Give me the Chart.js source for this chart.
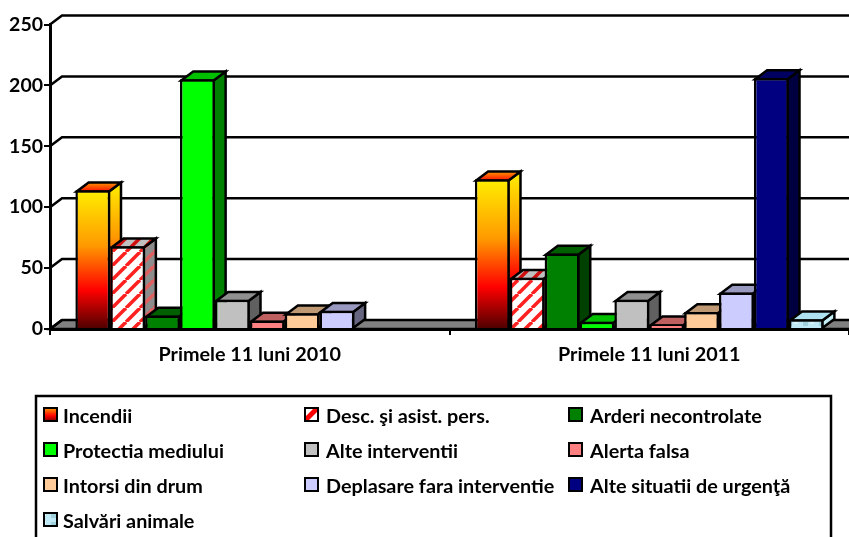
<!DOCTYPE html>
<html>
<head>
<meta charset="utf-8">
<style>
	html, body { margin: 0; padding: 0; background: #fff; }
	canvas { display: block; }
</style>
<script src="https://cdn.jsdelivr.net/npm/chart.js@4"></script>
</head>
<body>
<canvas id="myChart" width="849" height="537"></canvas>
<script>
const categories = ['Primele 11 luni 2010', 'Primele 11 luni 2011'];
const seriesNames = [
	'Incendii', 'Desc. şi asist. pers.', 'Arderi necontrolate',
	'Protectia mediului', 'Alte interventii', 'Alerta falsa',
	'Intorsi din drum', 'Deplasare fara interventie', 'Alte situatii de urgenţă',
	'Salvări animale'
];
const incendii = [114, 123];
const descarcerari = [68, 42];
const arderi = [11, 62];
const protectia = [205, 6];
const alteInterventii = [24, 24];
const alerta = [7, 4];
const intorsi = [13, 14];
const deplasare = [15, 30];
const alteSituatii = [0, 206];
const salvari = [0, 8];
const seriesValues = [incendii, descarcerari, arderi, protectia, alteInterventii, alerta, intorsi, deplasare, alteSituatii, salvari];
const yTicks = [0, 50, 100, 150, 200, 250];

// front, side and top colours of every series, index 0 and 1 and 9 are replaced by fills below
const frontColors = ['', '', '#008000', '#00ff00', '#c0c0c0', '#ff8080', '#ffcc99', '#ccccff', '#000080', ''];
const sideColors = ['', '', '#004000', '#008000', '#606060', '#804040', '#806650', '#666680', '#000040', '#c4eef6'];
const topColors = ['', '', '#006000', '#00c000', '#909090', '#bf6060', '#bf9973', '#9999bf', '#000060', '#aee2f0'];

const DEPTH_X = 12;
const DEPTH_Y = 9;
const LINE = 2.5;

function stripes (bg, fg) {
	const size = 14;
	const c = document.createElement('canvas');
	c.width = size;
	c.height = size;
	const g = c.getContext('2d');
	g.fillStyle = bg;
	g.fillRect(0, 0, size, size);
	g.strokeStyle = fg;
	g.lineWidth = 3.5;
	[-size, 0, size].forEach((o) => {
		g.beginPath();
		g.moveTo(o, size);
		g.lineTo(o + size, 0);
		g.stroke();
	});
	return document.createElement('canvas').getContext('2d').createPattern(c, 'repeat');
}

function waterTexture () {
	const c = document.createElement('canvas');
	c.width = 16;
	c.height = 8;
	const g = c.getContext('2d');
	g.fillStyle = '#bfeaf5';
	g.fillRect(0, 0, 16, 8);
	g.fillStyle = '#9fd0dc';
	g.fillRect(3, 2, 5, 4);
	g.fillStyle = '#d8f4fa';
	g.fillRect(10, 1, 4, 3);
	return document.createElement('canvas').getContext('2d').createPattern(c, 'repeat');
}

function fireGradient (ctx, top, bottom) {
	const grad = ctx.createLinearGradient(0, top, 0, bottom);
	grad.addColorStop(0, '#ffee00');
	grad.addColorStop(0.4, '#ff9900');
	grad.addColorStop(0.72, '#ff0000');
	grad.addColorStop(1, '#4d0000');
	return grad;
}

const stripeFront = stripes('#ffffff', '#ff2020');
const stripeSide = stripes('#8c8c8c', '#e06060');
const stripeTop = stripes('#c0c0c0', '#d01010');
const water = waterTexture();

function frontFill (index) {
	return (context) => {
		if (index === 0) {
			const y = context.chart.scales.y;
			const value = context.parsed ? context.parsed.y : undefined;
			if (!y || !Number.isFinite(value)) return '#ff9900';
			const top = y.getPixelForValue(value);
			const bottom = y.getPixelForValue(0);
			if (!Number.isFinite(top) || !Number.isFinite(bottom)) return '#ff9900';
			return fireGradient(context.chart.ctx, top, bottom);
		}
		if (index === 1) return stripeFront;
		if (index === 9) return water;
		return frontColors[index];
	};
}

function poly (ctx, pts, fill) {
	ctx.beginPath();
	pts.forEach((p, i) => (i ? ctx.lineTo(p[0], p[1]) : ctx.moveTo(p[0], p[1])));
	ctx.closePath();
	ctx.fillStyle = fill;
	ctx.fill();
	ctx.stroke();
}

// walls, floor and the depth faces of the bars, the bars themselves stay with Chart.js
const depthPlugin = {
	id: 'depth',
	beforeDatasetsDraw (chart) {
		const ctx = chart.ctx;
		const y = chart.scales.y;
		const area = chart.chartArea;
		ctx.save();
		ctx.strokeStyle = '#000';
		ctx.lineWidth = LINE;
		ctx.lineJoin = 'miter';

		const base = y.getPixelForValue(0);
		poly(ctx, [[area.left, base], [area.left + DEPTH_X, base - DEPTH_Y], [area.right + 20, base - DEPTH_Y], [area.right + 20, base]], '#808080');

		yTicks.forEach((t) => {
			const py = y.getPixelForValue(t);
			ctx.beginPath();
			ctx.moveTo(area.left, py);
			ctx.lineTo(area.left + DEPTH_X, py - DEPTH_Y);
			if (t > 0) ctx.lineTo(area.right + 20, py - DEPTH_Y);
			ctx.stroke();
		});

		categories.forEach((cat, c) => {
			seriesValues.forEach((vals, s) => {
				if (!vals[c]) return;
				const bar = chart.getDatasetMeta(s).data[c];
				const l = bar.x - bar.width / 2 + LINE / 2;
				const r = bar.x + bar.width / 2 - LINE / 2;
				const t = bar.y + LINE / 2;
				const b = bar.base;
				let side = sideColors[s];
				let top = topColors[s];
				if (s === 0) {
					side = fireGradient(ctx, t - DEPTH_Y, b - DEPTH_Y);
					top = ctx.createLinearGradient(0, t - DEPTH_Y, 0, t);
					top.addColorStop(0, '#ff9900');
					top.addColorStop(1, '#ff1000');
				}
				if (s === 1) {
					side = stripeSide;
					top = stripeTop;
				}
				poly(ctx, [[r, t], [r + DEPTH_X, t - DEPTH_Y], [r + DEPTH_X, b - DEPTH_Y], [r, b]], side);
				poly(ctx, [[l, t], [l + DEPTH_X, t - DEPTH_Y], [r + DEPTH_X, t - DEPTH_Y], [r, t]], top);
			});
		});
		ctx.restore();
	}
};

// fixed column legend, the box runs past the bottom of the picture
const legendColumns = [44, 305, 569];
const legendRows = [416, 451, 486, 521];
const boxPlugin = {
	id: 'legendBox',
	afterDraw (chart) {
		const ctx = chart.ctx;
		ctx.save();
		ctx.strokeStyle = '#000';
		ctx.lineWidth = LINE;
		ctx.strokeRect(36, 396, 795, 160);
		ctx.lineWidth = 2;
		ctx.font = 'bold 19.8px Lato';
		ctx.textBaseline = 'middle';
		seriesNames.forEach((name, i) => {
			const x = legendColumns[i % 3];
			const y = legendRows[Math.floor(i / 3)];
			const boxTop = y - 8;
			let fill = frontColors[i];
			if (i === 0) {
				fill = ctx.createLinearGradient(0, boxTop, 0, boxTop + 13);
				fill.addColorStop(0, '#ff9900');
				fill.addColorStop(0.6, '#ff0000');
				fill.addColorStop(1, '#800000');
			}
			if (i === 1) fill = '#ffffff';
			if (i === 9) fill = water;
			ctx.fillStyle = fill;
			ctx.fillRect(x, boxTop, 13, 13);
			if (i === 1) {
				ctx.fillStyle = '#ff0000';
				ctx.beginPath();
				ctx.moveTo(x, boxTop + 9);
				ctx.lineTo(x + 9, boxTop);
				ctx.lineTo(x + 13, boxTop);
				ctx.lineTo(x + 13, boxTop + 3);
				ctx.lineTo(x + 3, boxTop + 13);
				ctx.lineTo(x, boxTop + 13);
				ctx.closePath();
				ctx.fill();
			}
			ctx.strokeRect(x, boxTop, 13, 13);
			ctx.fillStyle = '#000';
			ctx.fillText(name, x + (i % 3 === 0 ? 19 : 21), y + 1);
		});
		ctx.restore();
	}
};

const datasets = seriesNames.map((name, i) => ({
	label: name,
	data: seriesValues[i],
	backgroundColor: frontFill(i),
	borderColor: '#000',
	borderWidth: LINE,
	categoryPercentage: 0.873,
	barPercentage: 1
}));

new Chart(document.getElementById('myChart'), {
	type: 'bar',
	data: { labels: categories, datasets: datasets },
	plugins: [depthPlugin, boxPlugin],
	options: {
		responsive: false,
		animation: false,
		layout: { padding: { top: 24.5, left: 0, right: 0, bottom: 0 } },
		plugins: {
			legend: { display: false },
			title: { display: false },
			tooltip: { enabled: false }
		},
		scales: {
			x: {
				grid: { drawOnChartArea: false, color: '#000', lineWidth: 2, tickLength: 6 },
				border: { color: '#000', width: 3 },
				ticks: { color: '#000', font: { family: 'Lato', size: 19.8, weight: 'bold' }, padding: 8, maxRotation: 0 },
				afterFit (axis) { axis.height = 208; }
			},
			y: {
				min: 0,
				max: 250,
				grid: { drawOnChartArea: false, color: '#000', lineWidth: 2, tickLength: 6 },
				border: { color: '#000', width: 3 },
				ticks: {
					color: '#000',
					stepSize: 50,
					padding: 1,
					font: { family: 'Lato', size: 19.5, weight: 'bold' }
				},
				afterFit (axis) { axis.width = 50; }
			}
		}
	}
});
</script>
</body>
</html>
